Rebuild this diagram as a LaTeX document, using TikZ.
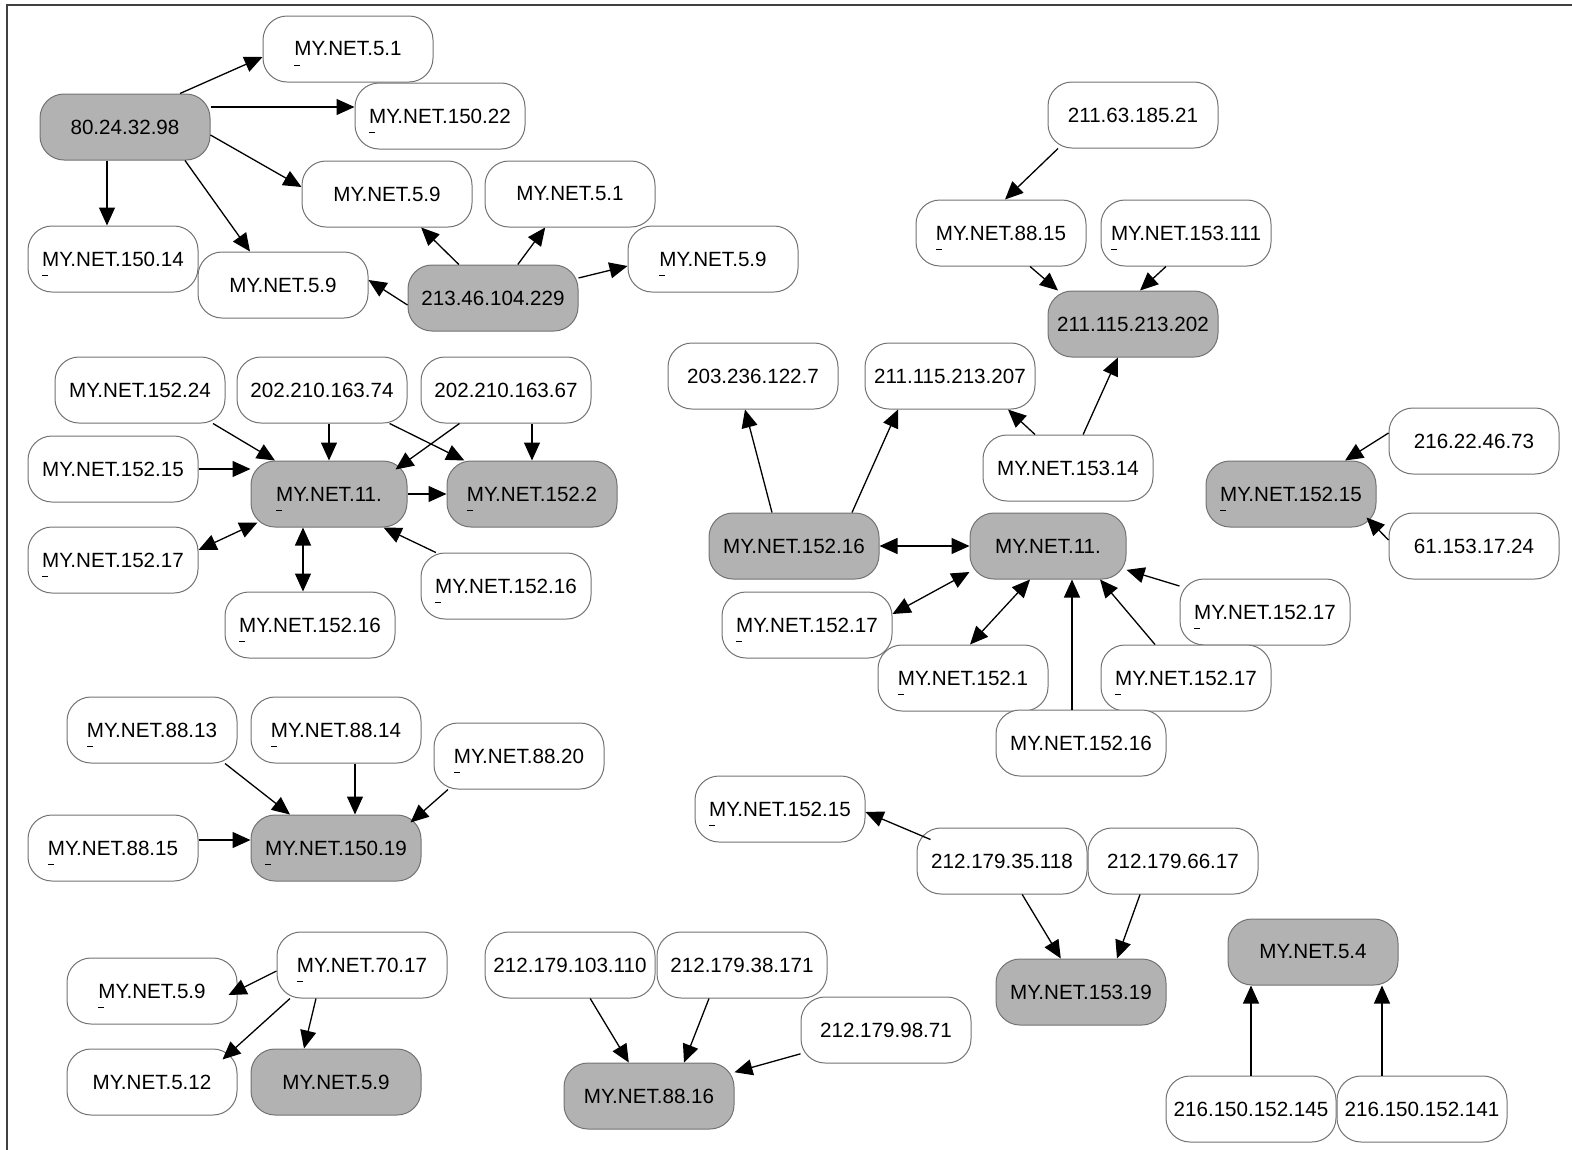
\documentclass[tikz,border=0pt]{standalone}
\usepackage{fontspec}
\setmainfont{Liberation Sans}
\usetikzlibrary{arrows.meta}
\newcommand\nub{\smash{\rlap{\raisebox{-10pt}{\rule{6pt}{1.2pt}}}}}

\begin{document}
\begin{tikzpicture}[x=1pt,y=-1pt]
\tikzstyle{every node}=[font=\fontsize{20.6}{24}\selectfont]
\tikzstyle{host}=[draw=black!55,line width=1pt,fill=white,rounded corners=24pt,
  minimum width=170pt,minimum height=66pt,inner xsep=2pt]
\tikzstyle{hub}=[host,fill=black!30]
\tikzstyle{conn}=[line width=1.3pt,>={Triangle[length=18pt,width=16pt]}]
\useasboundingbox (0,0) rectangle (1572,1149);
\draw[black!75,line width=1.2pt](7,1160) |- (1580,5);

% 80.24.32.98 and 213.46.104.229
\node[hub] (g1hub) at (125,127) {80.24.32.98};
\node[host] (g1a) at (348,49) {\nub MY.NET.5.1};
\node[host] (g1b) at (440,116) {\nub MY.NET.150.22};
\node[host] (g1c) at (387,194) {MY.NET.5.9};
\node[host] (g1d) at (570,194) {MY.NET.5.1};
\node[host] (g1e) at (113,259) {\nub MY.NET.150.14};
\node[host] (g1f) at (283,285) {MY.NET.5.9};
\node[hub] (g1hub2) at (493,298) {213.46.104.229};
\node[host] (g1g) at (713,259) {\nub MY.NET.5.9};
\draw[conn,->]([xshift=55pt]g1hub.north)--([yshift=-8pt]g1a.west);
\draw[conn,->]([yshift=20pt]g1hub.east)--([yshift=20pt]g1hub.east -| g1b.west);
\draw[conn,->]([yshift=-8pt]g1hub.east)--([yshift=7pt]g1c.west);
\draw[conn,->]([xshift=-18pt]g1hub.south)--([xshift=-18pt]g1hub.south |- g1e.north);
\draw[conn,->]([xshift=60pt]g1hub.south)--([xshift=-33pt]g1f.north);
\draw[conn,->](g1hub2)--(g1c);
\draw[conn,->](g1hub2)--(g1d);
\draw[conn,->]([yshift=-7pt]g1hub2.west)--([yshift=5pt]g1f.east);
\draw[conn,->]([yshift=20pt]g1hub2.east)--([yshift=-7pt]g1g.west);

% 211.115.213.202
\node[host] (t1) at (1133,115) {211.63.185.21};
\node[host] (t2) at (1001,233) {\nub MY.NET.88.15};
\node[host] (t3) at (1186,233) {\nub MY.NET.153.111};
\node[hub] (thub) at (1133,324) {211.115.213.202};
\draw[conn,->]([xshift=-75pt]t1.south)--([xshift=4pt]t2.north);
\draw[conn,->]([xshift=29pt]t2.south)--([xshift=-75pt]thub.north);
\draw[conn,->]([xshift=-20pt]t3.south)--([xshift=7pt]thub.north);

% left MY.NET.11.
\node[host] (c1) at (140,390) {MY.NET.152.24};
\node[host] (c2) at (322,390) {202.210.163.74};
\node[host] (c3) at (506,390) {202.210.163.67};
\node[host] (c4) at (113,469) {MY.NET.152.15};
\node[hub,minimum width=156pt] (chub) at (329,494) {\nub MY.NET.11.};
\node[hub] (chub2) at (532,494) {\nub MY.NET.152.2};
\node[host] (c5) at (113,560) {\nub MY.NET.152.17};
\node[host] (c6) at (310,625) {\nub MY.NET.152.16};
\node[host] (c7) at (506,586) {\nub MY.NET.152.16};
\draw[conn,->]([xshift=73pt]c1.south)--([xshift=-54pt]chub.north);
\draw[conn,->](c2.south -| chub)--(chub);
\draw[conn,->](c2)--(chub2);
\draw[conn,->](c3)--([xshift=-12pt,yshift=-9pt]chub.north east);
\draw[conn,->](c3.south -| chub2)--(chub2);
\draw[conn,->](c4.east)--(c4.east -| chub.west);
\draw[conn,->](chub)--(chub2);
\draw[conn,<->]([xshift=7pt,yshift=5pt]chub.south west)--([yshift=10pt]c5.east);
\draw[conn,<->]([xshift=-7pt]chub.south -| c6)--([xshift=-7pt]c6.north);
\draw[conn,->](c7)--([xshift=-24pt]chub.south east);

% right MY.NET.11.
\node[host] (m1) at (753,376) {203.236.122.7};
\node[host] (m2) at (950,376) {211.115.213.207};
\node[host] (m3) at (1068,468) {MY.NET.153.14};
\node[hub] (mhub) at (794,546) {MY.NET.152.16};
\node[hub,minimum width=156pt] (mhub2) at (1048,546) {MY.NET.11.};
\node[host] (m4) at (807,625) {\nub MY.NET.152.17};
\node[host] (m5) at (963,678) {\nub MY.NET.152.1};
\node[host] (m6) at (1265,612) {\nub MY.NET.152.17};
\node[host] (m7) at (1186,678) {\nub MY.NET.152.17};
\node[host] (m8) at (1081,743) {MY.NET.152.16};
\draw[conn,->]([xshift=-22pt]mhub.north)--([xshift=-8pt]m1.south);
\draw[conn,->]([xshift=58pt]mhub.north)--([xshift=-52pt]m2.south);
\draw[conn,->]([xshift=-33pt]m3.north)--([xshift=58pt]m2.south);
\draw[conn,->](m3)--(thub);
\draw[conn,<->](mhub)--(mhub2);
\draw[conn,<->]([yshift=-26pt]mhub2.west)--([yshift=11pt]m4.east);
\draw[conn,<->]([xshift=-18pt]mhub2.south)--([xshift=7pt]m5.north);
\draw[conn,->]([xshift=-9pt]m8.north)--([xshift=-9pt]m8.north |- mhub2.south);
\draw[conn,->]([xshift=-31pt]m7.north)--([xshift=52pt]mhub2.south);
\draw[conn,->](m6)--(mhub2);

% MY.NET.152.15
\node[hub] (rhub) at (1291,494) {\nub MY.NET.152.15};
\node[host] (r1) at (1474,441) {216.22.46.73};
\node[host] (r2) at (1474,546) {61.153.17.24};
\draw[conn,->]([yshift=8pt]r1.west)--([xshift=54pt]rhub.north);
\draw[conn,->]([yshift=6pt]r2.west)--([xshift=-10pt,yshift=10pt]rhub.south east);

% MY.NET.150.19
\node[host] (d1) at (152,730) {\nub MY.NET.88.13};
\node[host] (d2) at (336,730) {\nub MY.NET.88.14};
\node[host] (d3) at (519,756) {\nub MY.NET.88.20};
\node[host] (d4) at (113,848) {\nub MY.NET.88.15};
\node[hub] (dhub) at (336,848) {\nub MY.NET.150.19};
\draw[conn,->]([xshift=73pt]d1.south)--([xshift=-46pt]dhub.north);
\draw[conn,->]([xshift=19pt]d2.south)--([xshift=19pt]dhub.north);
\draw[conn,->]([xshift=-71pt]d3.south)--([xshift=-11pt,yshift=-8pt]dhub.north east);
\draw[conn,->]([yshift=8pt]d4.east)--([yshift=8pt]d4.east -| dhub.west);

% MY.NET.70.17
\node[host] (e1) at (362,965) {\nub MY.NET.70.17};
\node[host] (e2) at (152,991) {\nub MY.NET.5.9};
\node[host] (e3) at (152,1082) {MY.NET.5.12};
\node[hub] (ehub) at (336,1082) {MY.NET.5.9};
\draw[conn,->]([yshift=-6pt]e1.west)--([xshift=-9pt,yshift=-4pt]e2.east);
\draw[conn,->]([xshift=-72pt]e1.south)--([xshift=-15pt,yshift=-11pt]e3.north east);
\draw[conn,->]([xshift=-46pt]e1.south)--([xshift=-32pt]ehub.north);

% MY.NET.88.16
\node[host] (b1) at (570,965) {212.179.103.110};
\node[host] (b2) at (742,965) {212.179.38.171};
\node[host] (b3) at (886,1030) {212.179.98.71};
\node[hub] (bhub) at (649,1096) {MY.NET.88.16};
\draw[conn,->](b1)--(bhub);
\draw[conn,->]([xshift=-33pt]b2.south)--([xshift=35pt]bhub.north);
\draw[conn,->](b3)--(bhub);

% MY.NET.153.19
\node[host] (s1) at (780,809) {\nub MY.NET.152.15};
\node[host] (s2) at (1002,861) {212.179.35.118};
\node[host] (s3) at (1173,861) {212.179.66.17};
\node[hub] (shub) at (1081,992) {MY.NET.153.19};
\draw[conn,->]([xshift=14pt,yshift=-12pt]s2.north west)--([yshift=-3pt]s1.east);
\draw[conn,->](s2)--(shub);
\draw[conn,->]([xshift=-33pt]s3.south)--([xshift=36pt]shub.north);

% MY.NET.5.4
\node[hub] (phub) at (1313,952) {MY.NET.5.4};
\node[host] (p1) at (1251,1109) {216.150.152.145};
\node[host] (p2) at (1422,1109) {216.150.152.141};
\draw[conn,->](p1.north)--(p1.north |- phub.south);
\draw[conn,->]([xshift=-40pt]p2.north)--([xshift=-40pt]p2.north |- phub.south);

\end{tikzpicture}
\end{document}
